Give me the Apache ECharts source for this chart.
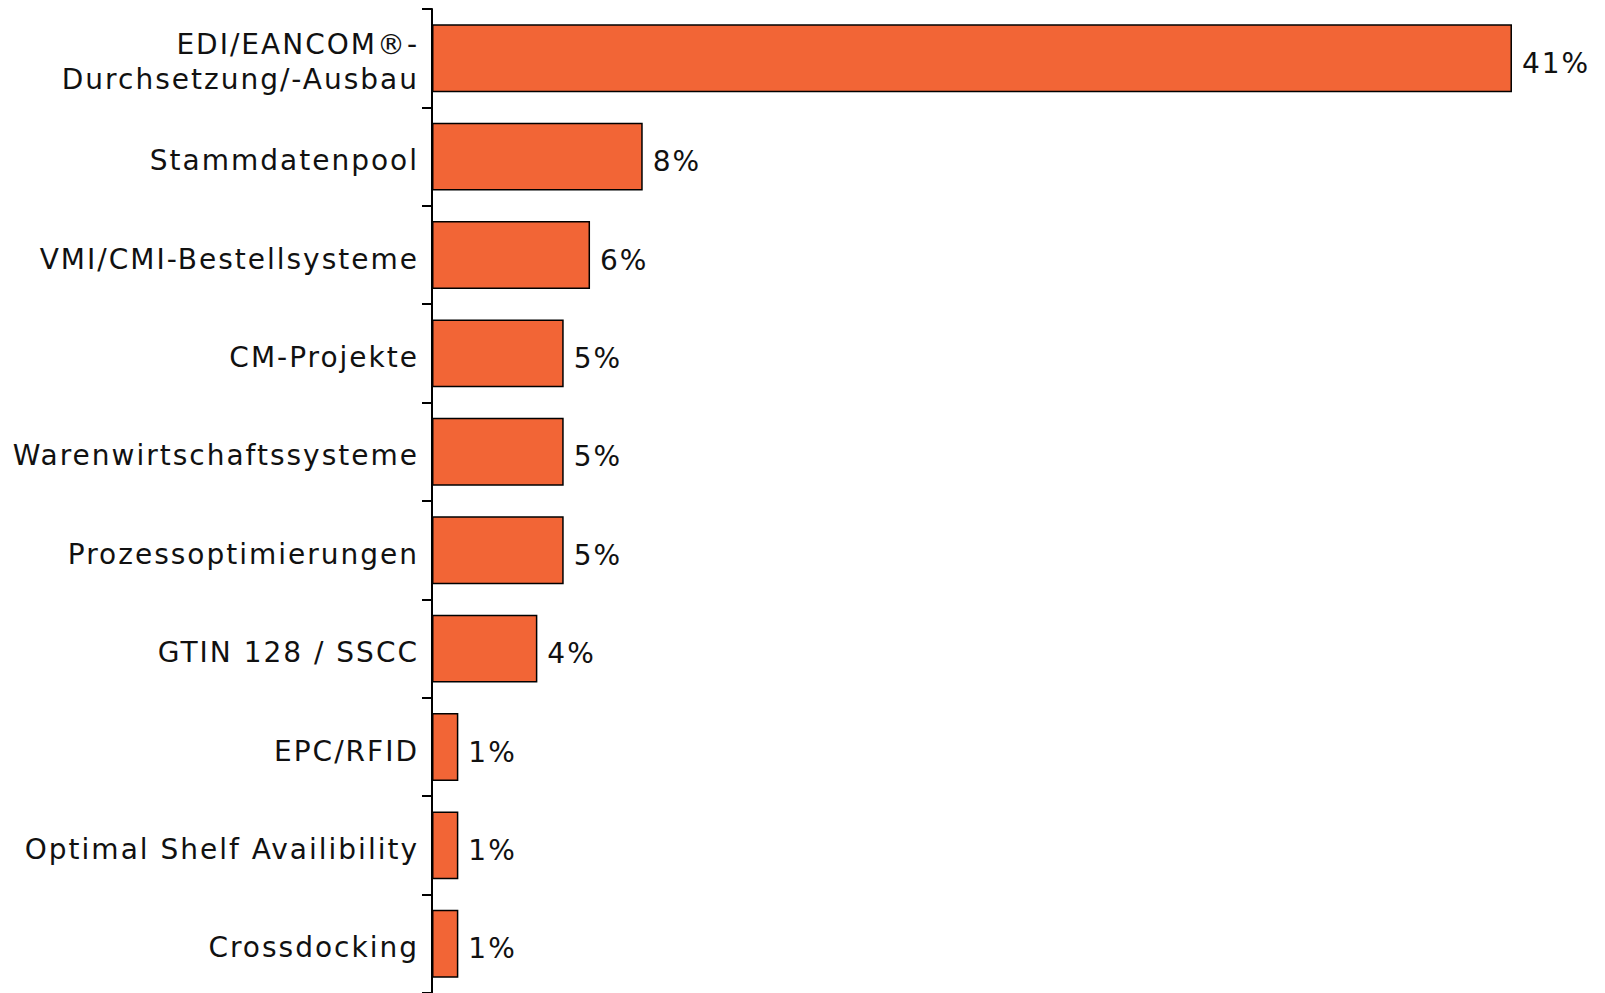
<!DOCTYPE html>
<html>
<head>
<meta charset="utf-8">
<script src="https://cdn.jsdelivr.net/npm/echarts@6/dist/echarts.min.js"></script>
<style>
html, body { margin: 0; padding: 0; background: #fff; }
#chart { width: 1605px; height: 993px; }
/* the source typesetting is tracked out a bit */
#chart text { letter-spacing: 2px; }
</style>
</head>
<body>
<div id="chart"></div>
<script>
// Themen, Anteil der Nennungen in %
let categories = [
    'EDI/EANCOM®-\nDurchsetzung/-Ausbau',
    'Stammdatenpool',
    'VMI/CMI-Bestellsysteme',
    'CM-Projekte',
    'Warenwirtschaftssysteme',
    'Prozessoptimierungen',
    'GTIN 128 / SSCC',
    'EPC/RFID',
    'Optimal Shelf Availibility',
    'Crossdocking'
]
let shares = [41, 8, 6, 5, 5, 5, 4, 1, 1, 1]

let myChart = echarts.init(document.getElementById('chart'), null, {renderer: 'svg'})
let fontFam = '"DejaVu Sans", Verdana, sans-serif'

option = {
    animation: false,
    grid: {
        left: 432,
        top: 9,
        width: 1159,
        bottom: -1
    },
    xAxis: {
        type: 'value',
        min: 0,
        max: 44,
        show: false
    },
    yAxis: {
        type: 'category',
        data: categories,
        inverse: true,
        axisLine: {lineStyle: {color: '#000', width: 2}},
        axisTick: {show: true, length: 10, inside: false, lineStyle: {color: '#000', width: 2}},
        axisLabel: {
            margin: 13,
            align: 'right',
            // each line as a rich token so it can sit a few px lower
            formatter: function (v) {
                return v.split('\n').map(function (l) { return '{t|' + l + '}' }).join('\n')
            },
            rich: {
                t: {
                    color: '#111',
                    fontSize: 28,
                    fontFamily: fontFam,
                    lineHeight: 35,
                    padding: [8, 0, 0, 0]
                }
            }
        }
    },
    series: [{
        type: 'bar',
        data: shares,
        barCategoryGap: '31%',
        itemStyle: {
            color: '#F26536',
            borderColor: '#000',
            borderWidth: 1.5
        },
        label: {
            show: true,
            position: 'right',
            distance: 10,
            offset: [0, 5],
            formatter: '{c}%',
            color: '#111',
            fontSize: 28,
            fontFamily: fontFam
        }
    }]
}

myChart.setOption(option)
</script>
</body>
</html>
